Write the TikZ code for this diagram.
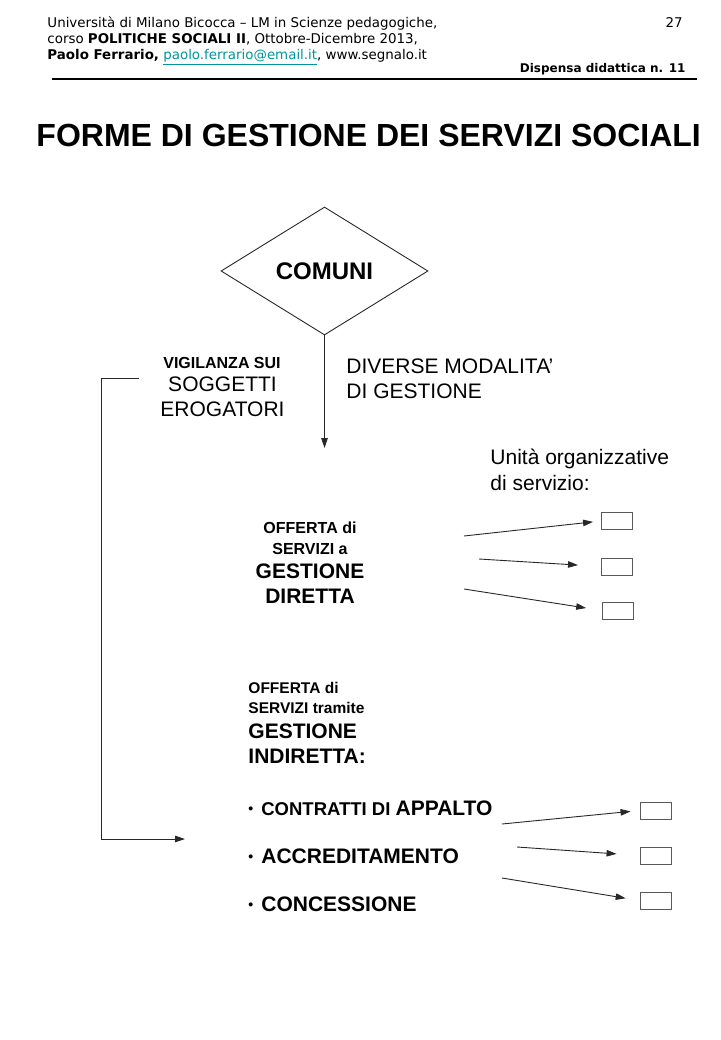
\documentclass[tikz,border=0pt]{standalone}
\usepackage{fontspec}
\setmainfont{Liberation Sans}
\newfontfamily\hdrfont{DejaVu Sans}
\usetikzlibrary{shapes.geometric, arrows.meta}
\definecolor{linkcol}{RGB}{0,150,155}
\definecolor{inkgray}{RGB}{40,40,40}
\newcommand{\fs}[1]{\fontsize{#1}{#1}\selectfont}
\newcommand{\dotitem}{{\fs{14}\raisebox{1.5pt}{•}}\hspace{8pt}}

\begin{document}
\begin{tikzpicture}[x=1pt, y=-1pt, ->, >={Triangle[length=10pt, width=6.5pt]}, line width=0.9pt, draw=inkgray,
    hdr/.style={anchor=base west, inner sep=0, font=\hdrfont\fs{13.4}},
    txt/.style={anchor=base, inner sep=0},
    txtl/.style={anchor=base west, inner sep=0},
    unit/.style={draw=black!65, line width=1pt, minimum width=31pt, minimum height=17pt, inner sep=0}]
    \useasboundingbox (0,0) rectangle (720,1040);
    % intestazione
    \node[hdr] (h1) at (47,28) {Università di Milano Bicocca – LM in Scienze pedagogiche,};
    \node[hdr] (h2) at (47,44) {corso \textbf{POLITICHE SOCIALI II}, Ottobre-Dicembre 2013,};
    \node[hdr] (h3) at (47,60) {\textbf{Paolo Ferrario,} \textcolor{linkcol}{\underline{paolo.ferrario@email.it}}, www.segnalo.it};
    \node[hdr, anchor=base east] (pag) at (683,28) {27};
    \node[hdr, anchor=base east, font=\hdrfont\bfseries\fs{12}] (disp) at (686,73) {Dispensa didattica n. 11};
    \draw[-, line width=1.2pt, black] (52,79) -- (697,79);
    % titolo
    \node[txtl, font=\bfseries\fs{32}] (title) at (36,147) {FORME DI GESTIONE DEI SERVIZI SOCIALI};
    % comuni
    \node[draw, diamond, aspect=1.62, minimum width=207pt, minimum height=128pt, inner sep=0, font=\bfseries\fs{24}] (com) at (324.5,271) {COMUNI};
    \coordinate (gest) at (324.5,448);
    \draw (com.south) -- (gest);
    \node[txtl, font=\fs{21}] (mod1) at (346,373) {DIVERSE MODALITA’};
    \node[txtl, font=\fs{21}] (mod2) at (346,398) {DI GESTIONE};
    \node[txt, font=\bfseries\fs{16}] (vig1) at (222,368) {VIGILANZA SUI};
    \node[txt, font=\fs{21}] (vig2) at (222.5,391) {SOGGETTI};
    \node[txt, font=\fs{21}] (vig3) at (222.5,416) {EROGATORI};
    \coordinate (vs) at (139,378);
    \coordinate (ve) at (185,839);
    \draw (vs) -- (101,378) |- (ve);
    % unita organizzative
    \node[txtl, font=\fs{21}] (uo1) at (490,464) {Unità organizzative};
    \node[txtl, font=\fs{21}] (uo2) at (490,490) {di servizio:};
    % gestione diretta
    \node[txt, font=\bfseries\fs{16}] (dir1) at (310,533) {OFFERTA di};
    \node[txt, font=\bfseries\fs{16}] (dir2) at (310,554) {SERVIZI a};
    \node[txt, font=\bfseries\fs{21}] (dir3) at (310,578) {GESTIONE};
    \node[txt, font=\bfseries\fs{21}] (dir4) at (310,603) {DIRETTA};
    \node[unit] (d1) at (617,521) {};
    \node[unit] (d2) at (617,566.5) {};
    \node[unit] (d3) at (618,610.5) {};
    \coordinate (ds1) at (464,536);
    \coordinate (ds2) at (479,559);
    \coordinate (ds3) at (464,589);
    \draw[shorten >=8pt] (ds1) -- (d1.west);
    \draw[shorten >=23pt] (ds2) -- (d2.west);
    \draw[shorten >=16pt] (ds3) -- (d3.west);
    % gestione indiretta
    \node[txtl, font=\bfseries\fs{15.5}] (ind1) at (248,693) {OFFERTA di};
    \node[txtl, font=\bfseries\fs{15.5}] (ind2) at (248,713) {SERVIZI tramite};
    \node[txtl, font=\bfseries\fs{21}] (ind3) at (248,738) {GESTIONE};
    \node[txtl, font=\bfseries\fs{21}] (ind4) at (248,763) {INDIRETTA:};
    \node[txtl, font=\bfseries\fs{18.5}] (app) at (248,815) {\dotitem CONTRATTI DI {\fs{21}APPALTO}};
    \node[txtl, font=\bfseries\fs{21}] (acc) at (248,863) {\dotitem ACCREDITAMENTO};
    \node[txtl, font=\bfseries\fs{21}] (con) at (248,911) {\dotitem CONCESSIONE};
    \node[unit] (i1) at (655.5,810.5) {};
    \node[unit] (i2) at (655.5,855.5) {};
    \node[unit] (i3) at (655.5,900.5) {};
    \coordinate (is1) at (502,824);
    \coordinate (is2) at (517,847);
    \coordinate (is3) at (502,878);
    \draw[shorten >=9pt] (is1) -- (i1.west);
    \draw[shorten >=23pt] (is2) -- (i2.west);
    \draw[shorten >=14pt] (is3) -- (i3.west);
\end{tikzpicture}
\end{document}
